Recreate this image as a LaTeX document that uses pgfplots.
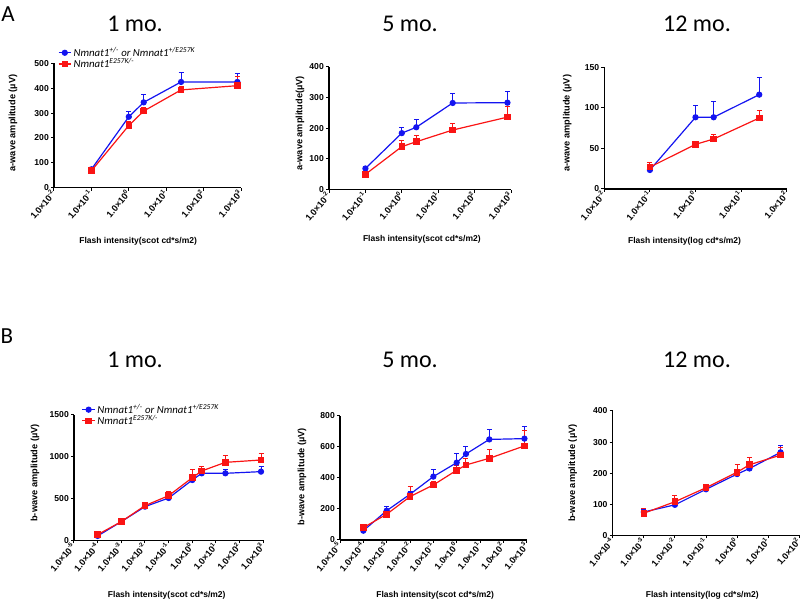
\documentclass[border=0pt]{standalone}
\usepackage{fontspec}
\setmainfont{Liberation Sans}
\newfontfamily\carlito{Carlito}
\usepackage{pgfplots}
\pgfplotsset{compat=1.18}
\newcommand{\tlab}[1]{1.0×10\textsuperscript{#1}}
\definecolor{gblue}{RGB}{20,20,240}
\definecolor{gred}{RGB}{250,20,20}
\pgfplotsset{
  every axis/.append style={scale only axis, anchor=south west,
    axis lines*=left, tick align=outside, clip=false,
    axis line style={line width=1.1pt, black},
    major tick length=3pt, tick style={line width=1pt, black},
    minor tick num=0, ymin=0,
    yticklabel style={font=\bfseries\fontsize{8.6}{9}\selectfont, inner sep=2pt},
    xticklabel style={font=\bfseries\fontsize{9}{9}\selectfont, rotate=50, anchor=east, inner sep=1pt},
    xlabel style={font=\bfseries\fontsize{8.5}{10}\selectfont},
    ylabel style={font=\bfseries\fontsize{9.2}{10}\selectfont},
    legend cell align=left,
  },
  legend image code/.code={\draw[mark repeat=2,mark phase=2] plot coordinates {(0cm,0cm)(0.22cm,0cm)(0.44cm,0cm)};},
}
\pgfplotsset{
  bser/.style={gblue, line width=1.2pt, mark=*, mark size=2.5pt, mark options={solid},
    error bars/y dir=plus, error bars/y explicit, error bars/error bar style={line width=1pt},
    error bars/error mark options={line width=1pt, mark size=2.5pt, rotate=90}},
  rser/.style={gred, line width=1.2pt, mark=square*, mark size=2.7pt, mark options={solid},
    error bars/y dir=plus, error bars/y explicit, error bars/error bar style={line width=1pt},
    error bars/error mark options={line width=1pt, mark size=2.5pt, rotate=90}},
}
\begin{document}
\begin{tikzpicture}
\path[use as bounding box] (0,0) rectangle (800pt,599pt);
% panel letters and titles
\node[font=\carlito\fontsize{23}{23}\selectfont] at (8pt,585pt) {A};
\node[font=\carlito\fontsize{23}{23}\selectfont] at (7pt,263pt) {B};
\node[font=\carlito\fontsize{24}{24}\selectfont] at (135pt,575.5pt) {1 mo.};
\node[font=\carlito\fontsize{24}{24}\selectfont] at (410pt,575.5pt) {5 mo.};
\node[font=\carlito\fontsize{24}{24}\selectfont] at (697pt,575.5pt) {12 mo.};
\node[font=\carlito\fontsize{24}{24}\selectfont] at (135pt,239pt) {1 mo.};
\node[font=\carlito\fontsize{24}{24}\selectfont] at (410pt,239pt) {5 mo.};
\node[font=\carlito\fontsize{24}{24}\selectfont] at (697pt,239pt) {12 mo.};
% ---------- A1 ----------
\begin{axis}[at={(54pt,411.3pt)}, width=187pt, height=124.4pt,
  xmode=log, log basis x=10, xminorticks=false, yminorticks=false,
  /pgf/number format/assume math mode=true, /pgf/number format/1000 sep={},
  xmin=1e-2, xmax=1e3, ymax=500, ytick={0,100,...,500},
  xtick={1e-2,1e-1,1,10,100,1000},
  xticklabels={\tlab{-2},\tlab{-1},\tlab{0},\tlab{1},\tlab{2},\tlab{3}},
  xlabel={Flash intensity(scot cd*s/m2)}, ylabel={a-wave amplitude (µV)},
  xlabel style={at={(axis description cs:0.45,-0.434)}, anchor=center},
  ylabel style={at={(axis description cs:-0.219,0.52)}, anchor=center},
  legend style={at={(axis description cs:0.02,1.145)}, anchor=north west, draw=none, fill=none,
    font=\carlito\itshape\fontsize{10.8}{11}\selectfont, inner sep=0pt, row sep=-3.5pt}]
\addplot+[bser] table[x=x,y=y,y error=e] {
x y e
0.1 74 5
1 285 23
2.5 343 30
25 425 40
800 425 35
};
\addlegendentry{Nmnat1\textsuperscript{+/-} or Nmnat1\textsuperscript{+/E257K}}
\addplot+[rser] table[x=x,y=y,y error=e] {
x y e
0.1 68 5
1 250 15
2.5 308 15
25 393 12
800 410 36
};
\addlegendentry{Nmnat1\textsuperscript{E257K/-}}
\end{axis}
% ---------- A2 ----------
\begin{axis}[at={(329pt,409.3pt)}, width=182pt, height=123pt,
  xmode=log, log basis x=10, xminorticks=false, yminorticks=false,
  /pgf/number format/assume math mode=true, /pgf/number format/1000 sep={},
  xmin=1e-2, xmax=1e3, ymax=400, ytick={0,100,...,400},
  xtick={1e-2,1e-1,1,10,100,1000},
  xticklabels={\tlab{-2},\tlab{-1},\tlab{0},\tlab{1},\tlab{2},\tlab{3}},
  xlabel={Flash intensity(scot cd*s/m2)}, ylabel={a-wave amplitude(µV)},
  xlabel style={at={(axis description cs:0.51,-0.403)}, anchor=center},
  ylabel style={at={(axis description cs:-0.16,0.54)}, anchor=center}]
\addplot+[bser] table[x=x,y=y,y error=e] {
x y e
0.1 69 5
1 184 19
2.5 203 24
25 282 30
800 283 35
};
\addplot+[rser] table[x=x,y=y,y error=e] {
x y e
0.1 50 8
1 140 20
2.5 156 20
25 194 22
800 236 34
};
\end{axis}
% ---------- A3 ----------
\begin{axis}[at={(604.3pt,410pt)}, width=182.4pt, height=121.7pt,
  xmode=log, log basis x=10, xminorticks=false, yminorticks=false,
  /pgf/number format/assume math mode=true, /pgf/number format/1000 sep={},
  xmin=1e-2, xmax=1e2, ymax=150, ytick={0,50,100,150},
  xtick={1e-2,1e-1,1,10,100},
  xticklabels={\tlab{-2},\tlab{-1},\tlab{0},\tlab{1},\tlab{2}},
  xlabel={Flash intensity(log cd*s/m2)}, ylabel={a-wave amplitude (µV)},
  xlabel style={at={(axis description cs:0.44,-0.433)}, anchor=center},
  ylabel style={at={(axis description cs:-0.203,0.54)}, anchor=center}]
\addplot+[bser] table[x=x,y=y,y error=e] {
x y e
0.1 23.4 2
1 88.4 15
2.5 88.4 19
25 116.3 21
};
\addplot+[rser] table[x=x,y=y,y error=e] {
x y e
0.1 27 6
1 55 2
2.5 61.6 5
25 87.5 9
};
\end{axis}
% ---------- B1 ----------
\begin{axis}[at={(74pt,58.7pt)}, width=189.3pt, height=125.6pt,
  xmode=log, log basis x=10, xminorticks=false, yminorticks=false,
  /pgf/number format/assume math mode=true, /pgf/number format/1000 sep={},
  xmin=1e-5, xmax=1e3, ymax=1500, ytick={0,500,1000,1500},
  xtick={1e-5,1e-4,1e-3,1e-2,1e-1,1,10,100,1000},
  xticklabels={\tlab{-5},\tlab{-4},\tlab{-3},\tlab{-2},\tlab{-1},\tlab{0},\tlab{1},\tlab{2},\tlab{3}},
  xlabel={Flash intensity(scot cd*s/m2)}, ylabel={b-wave amplitude (µV)},
  xlabel style={at={(axis description cs:0.49,-0.438)}, anchor=center},
  ylabel style={at={(axis description cs:-0.206,0.536)}, anchor=center},
  legend style={at={(axis description cs:0.04,1.10)}, anchor=north west, draw=none, fill=none,
    font=\carlito\itshape\fontsize{10.8}{11}\selectfont, inner sep=0pt, row sep=-3.5pt}]
\addplot+[bser] table[x=x,y=y,y error=e] {
x y e
1e-4 52 10
1e-3 223 15
1e-2 402 20
0.1 505 20
1 720 30
2.5 800 60
25 800 50
800 820 60
};
\addlegendentry{Nmnat1\textsuperscript{+/-} or Nmnat1\textsuperscript{+/E257K}}
\addplot+[rser] table[x=x,y=y,y error=e] {
x y e
1e-4 68 10
1e-3 223 15
1e-2 414 36
0.1 533 48
1 748 100
2.5 828 50
25 931 80
800 959 80
};
\addlegendentry{Nmnat1\textsuperscript{E257K/-}}
\end{axis}
% ---------- B2 ----------
\begin{axis}[at={(340pt,59pt)}, width=186.7pt, height=124pt,
  xmode=log, log basis x=10, xminorticks=false, yminorticks=false,
  /pgf/number format/assume math mode=true, /pgf/number format/1000 sep={},
  xmin=1e-5, xmax=1e3, ymax=800, ytick={0,200,...,800},
  xtick={1e-5,1e-4,1e-3,1e-2,1e-1,1,10,100,1000},
  xticklabels={\tlab{-5},\tlab{-4},\tlab{-3},\tlab{-2},\tlab{-1},\tlab{0},\tlab{1},\tlab{2},\tlab{3}},
  xlabel={Flash intensity(scot cd*s/m2)}, ylabel={b-wave amplitude (µV)},
  xlabel style={at={(axis description cs:0.51,-0.444)}, anchor=center},
  ylabel style={at={(axis description cs:-0.204,0.51)}, anchor=center}]
\addplot+[bser] table[x=x,y=y,y error=e] {
x y e
1e-4 60 10
1e-3 189 26
1e-2 295 20
0.1 409 47
1 499 56
2.5 555 51
25 649 65
800 654 81
};
\addplot+[rser] table[x=x,y=y,y error=e] {
x y e
1e-4 80 10
1e-3 166 15
1e-2 280 64
0.1 355 20
1 450 30
2.5 484 40
25 527 54
800 607 98
};
\end{axis}
% ---------- B3 ----------
\begin{axis}[at={(612.7pt,63.7pt)}, width=186.6pt, height=124.3pt,
  xmode=log, log basis x=10, xminorticks=false, yminorticks=false,
  /pgf/number format/assume math mode=true, /pgf/number format/1000 sep={},
  xmin=1e-4, xmax=1e2, ymax=400, ytick={0,100,...,400},
  xtick={1e-4,1e-3,1e-2,1e-1,1,10,100},
  xticklabels={\tlab{-4},\tlab{-3},\tlab{-2},\tlab{-1},\tlab{0},\tlab{1},\tlab{2}},
  xlabel={Flash intensity(log cd*s/m2)}, ylabel={b-wave amplitude (µV)},
  xlabel style={at={(axis description cs:0.48,-0.48)}, anchor=center},
  ylabel style={at={(axis description cs:-0.214,0.5)}, anchor=center}]
\addplot+[bser] table[x=x,y=y,y error=e] {
x y e
1e-3 75 8
1e-2 98 6
0.1 148 8
1 197 10
2.5 215 8
25 267 23
};
\addplot+[rser] table[x=x,y=y,y error=e] {
x y e
1e-3 71 16
1e-2 108 19
0.1 153 8
1 203 26
2.5 227 24
25 258 26
};
\end{axis}
\end{tikzpicture}
\end{document}
